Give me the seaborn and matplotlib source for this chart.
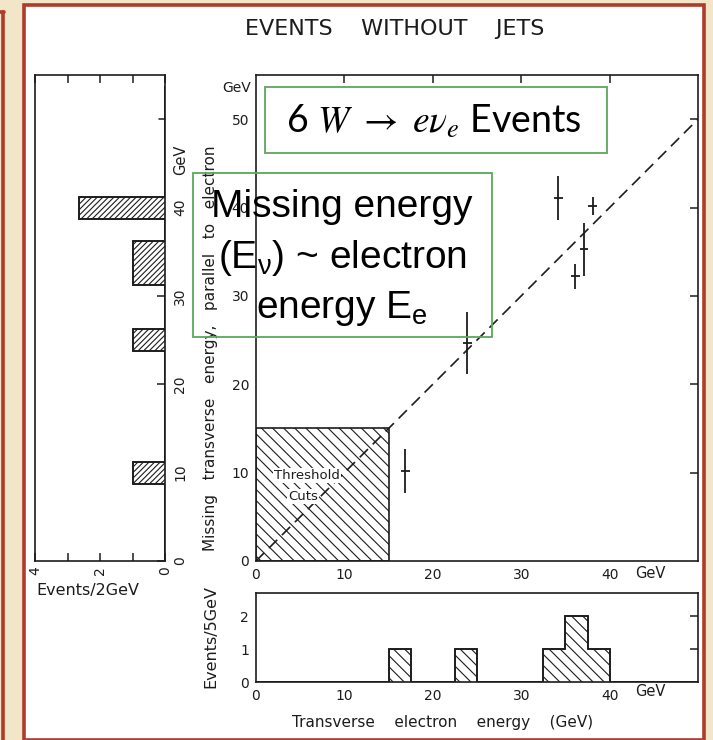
import numpy as np
import matplotlib
matplotlib.use("Agg")
import matplotlib.pyplot as plt
from matplotlib.patches import Rectangle
from matplotlib.lines import Line2D
import seaborn as sns

# ---- data -------------------------------------------------------------
# scatter: transverse electron energy vs missing transverse energy (GeV)
e_electron = [16.9, 23.9, 34.2, 38.1, 37.1, 36.1]
e_missing = [10.2, 24.7, 41.1, 40.2, 35.3, 32.2]
e_missing_err = [2.5, 3.5, 2.5, 1.0, 3.0, 1.4]
e_electron_err = [0.5, 0.5, 0.5, 0.5, 0.5, 0.5]

# side histogram of missing energy (bin centres, counts), 2.5 GeV bins
miss_centres = [10.0, 25.0, 32.5, 35.0, 40.0]
miss_counts = [1, 1, 1, 1, 2.65]

# lower histogram of electron energy (bin centres, counts), 2.5 GeV bins
elec_centres = [16.25, 23.75, 33.75, 36.25, 38.75]
elec_counts = [1, 1, 1, 2, 1]

threshold = 15.0

main_xticks = [0, 10, 20, 30, 40]
main_yticks = [0, 10, 20, 30, 40, 50]
side_xticks = [0, 1, 2, 3, 4]
side_xlabels = ["0", "", "2", "", "4"]

# ---- style ------------------------------------------------------------
sns.set_style("white")
plt.rcParams["font.family"] = ["DejaVu Sans"]
plt.rcParams["hatch.linewidth"] = 0.8
INK = "#1c1c1c"
RED = "#b03a2c"
BEIGE = "#f1e6c8"
GREEN = "#5aa85a"

W, H = 713, 740
fig = plt.figure(figsize=(W / 100, H / 100), dpi=100, facecolor=BEIGE)


def fx(x):
    return x / W


def fy(y):
    return 1 - y / H


# page frame
fig.patches.append(Rectangle((fx(24), 0), fx(704) - fx(24), fy(5), transform=fig.transFigure,
                             facecolor="white", edgecolor=RED, lw=2.6, zorder=-10))
fig.lines.append(Line2D([fx(2.5), fx(2.5)], [0, fy(12)], transform=fig.transFigure,
                        color=RED, lw=2.6, zorder=-9))
fig.lines.append(Line2D([0, fx(3.5)], [fy(12), fy(12)], transform=fig.transFigure,
                        color=RED, lw=2.6, zorder=-9))

ax = fig.add_axes([fx(256), fy(561), fx(698) - fx(256), fy(75) - fy(561)])
axl = fig.add_axes([fx(35), fy(561), fx(165) - fx(35), fy(75) - fy(561)])
axb = fig.add_axes([fx(256), fy(682), fx(698) - fx(256), fy(593) - fy(682)])

for a in (ax, axl, axb):
    a.set_facecolor("none")
    for s in a.spines.values():
        s.set_visible(True)
        s.set_color(INK)
        s.set_linewidth(1.2)
    a.tick_params(direction="in", length=6, width=1.1, color=INK,
                  labelsize=10, labelcolor=INK)

# ---- main scatter ------------------------------------------------------
ax.set_xlim(0, 50)
ax.set_ylim(0, 55)
ax.add_patch(Rectangle((0, 0), threshold, threshold, facecolor="white",
                       edgecolor=INK, hatch="\\\\\\", lw=1.2, zorder=1))
diag = np.array([0, 50])
sns.lineplot(x=diag, y=diag, ax=ax, color=INK, lw=1.2, zorder=2)
ax.lines[-1].set_dashes([7, 4])
ax.errorbar(e_electron, e_missing, xerr=e_electron_err, yerr=e_missing_err,
            fmt="none", ecolor=INK, elinewidth=1.3, capsize=0, zorder=3)
for label, xy in (("Threshold", (5.8, 9.7)), ("Cuts", (5.3, 7.3))):
    ax.text(*xy, label, fontsize=9.5, ha="center", va="center", color=INK, zorder=4,
            bbox=dict(facecolor="white", edgecolor="none", pad=0.8))

ax.set_xticks(main_xticks)
ax.set_yticks(main_yticks)
ax.tick_params(top=True, right=True, pad=5)
ax.set_xlabel("")
ax.set_ylabel("")
ax.xaxis.get_major_ticks()[0].tick2line.set_visible(False)
ax.yaxis.get_major_ticks()[0].tick2line.set_visible(False)

# ---- side histogram (missing energy) -----------------------------------
miss_edges = np.arange(-1.25, 55, 2.5)
miss_hist, _ = np.histogram(miss_centres, bins=miss_edges, weights=miss_counts)
axl.stairs(miss_hist, miss_edges, orientation="horizontal", fill=True,
           facecolor="white", edgecolor=INK, lw=1.2, hatch="//////")
axl.stairs(miss_hist, miss_edges, orientation="horizontal", color=INK, lw=1.2)
axl.set_ylim(0, 55)
axl.set_xlim(4, 0)
axl.set_xticks(side_xticks)
axl.set_xticklabels(side_xlabels, rotation=90, va="top", ha="center")
axl.set_yticks(main_yticks[:-1])
axl.set_yticklabels([str(v) for v in main_yticks[:-1]], rotation=90, va="center")
axl.yaxis.tick_right()
axl.tick_params(axis="x", top=True, bottom=True, pad=4)
axl.tick_params(axis="y", left=False, right=True, pad=6)
axl.plot([0, 0.18], [50, 50], color=INK, lw=1.1, clip_on=False)

# ---- lower histogram (electron energy) ---------------------------------
elec_edges = np.arange(0, 50.01, 2.5)
elec_hist, _ = np.histogram(elec_centres, bins=elec_edges, weights=elec_counts)
axb.stairs(elec_hist, elec_edges, fill=True, facecolor="white", edgecolor=INK,
           lw=1.2, hatch="\\\\\\")
axb.stairs(elec_hist, elec_edges, color=INK, lw=1.2)
axb.set_xlim(0, 50)
axb.set_ylim(0, 2.7)
axb.set_xticks(main_xticks)
axb.set_yticks([0, 1, 2])
axb.tick_params(right=True, pad=5)
axb.xaxis.get_major_ticks()[0].tick1line.set_visible(False)
axb.yaxis.get_major_ticks()[0].tick1line.set_visible(False)
axb.yaxis.get_major_ticks()[0].tick2line.set_visible(False)

# ---- labels --------------------------------------------------------------
fig.text(fx(395), fy(29), "EVENTS    WITHOUT    JETS", fontsize=16, ha="center",
         va="center", color=INK)
fig.text(fx(211), fy(348), "Missing   transverse   energy,   parallel   to   electron",
         fontsize=11, rotation=90, ha="center", va="center", color=INK)
fig.text(fx(237), fy(88), "GeV", fontsize=10, ha="center", va="center", color=INK)
fig.text(fx(650), fy(574), "GeV", fontsize=10.5, ha="center", va="center", color=INK)
fig.text(fx(650), fy(692), "GeV", fontsize=10.5, ha="center", va="center", color=INK)
fig.text(fx(211), fy(637), "Events/5GeV", fontsize=11.5, rotation=90, ha="center",
         va="center", color=INK)
fig.text(fx(443), fy(723), "Transverse    electron    energy    (GeV)", fontsize=11,
         ha="center", va="center", color=INK)
fig.text(fx(36), fy(590), "Events/2GeV", fontsize=11.5, ha="left", va="center", color=INK)
fig.text(fx(181), fy(160), "GeV", fontsize=10.5, rotation=90, ha="center", va="center",
         color=INK)

# ---- annotation boxes ---------------------------------------------------
fig.patches.append(Rectangle((fx(265), fy(153)), fx(607) - fx(265), fy(87) - fy(153),
                             transform=fig.transFigure, fill=False, edgecolor=GREEN,
                             lw=1.3, zorder=20))
fig.text(fx(434), fy(121), r"6 $W\ \rightarrow\ e\nu_e$ Events", fontsize=27,
         family=["Lato", "DejaVu Sans"], math_fontfamily="stix", ha="center",
         va="center", color="black", zorder=21)

fig.patches.append(Rectangle((fx(193), fy(337)), fx(492) - fx(193), fy(173) - fy(337),
                             transform=fig.transFigure, fill=False, edgecolor=GREEN,
                             lw=1.3, zorder=20))
for txt, yy in (("Missing energy", 207), (r"($\mathregular{E_\nu}$) ~ electron", 258),
                (r"energy $\mathregular{E_e}$", 308)):
    fig.text(fx(342), fy(yy), txt, fontsize=28, family=["Liberation Sans", "DejaVu Sans"],
             ha="center", va="center", color="black", zorder=21)

fig.savefig("out.png", dpi=100, facecolor=BEIGE)
